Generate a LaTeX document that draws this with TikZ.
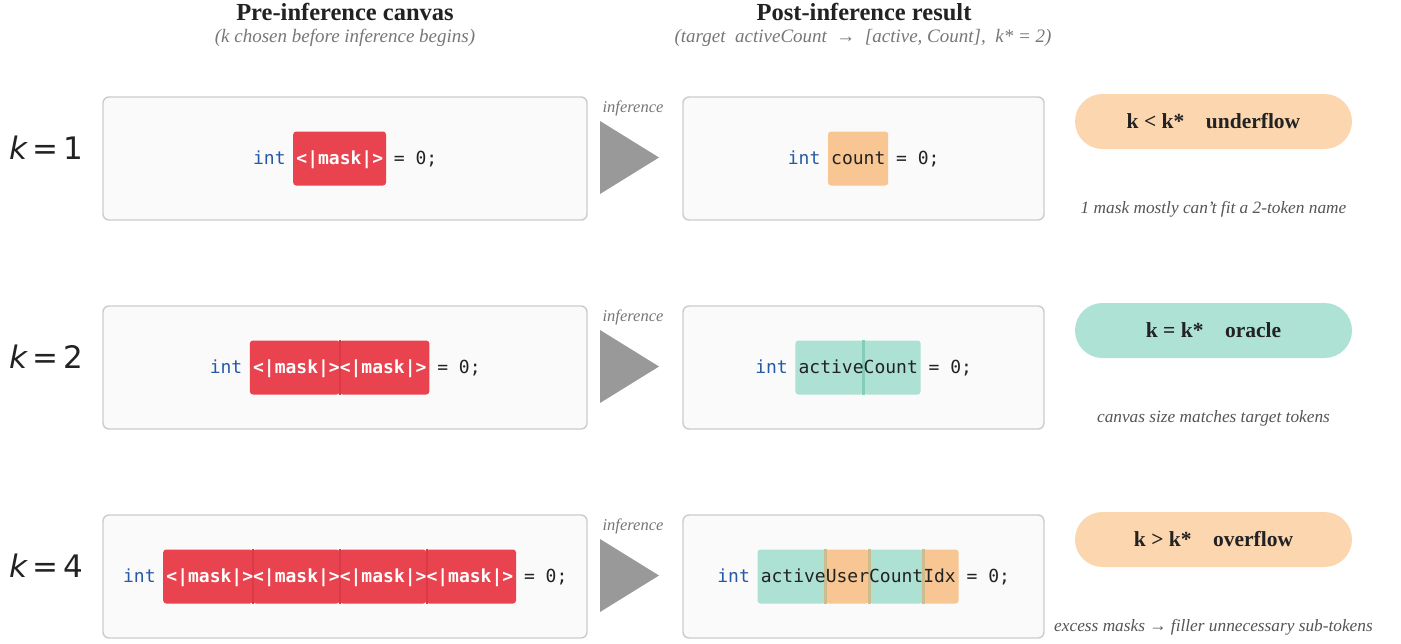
\documentclass[tikz,border=0pt]{standalone}
\usepackage{fontspec}
\setmainfont{Liberation Serif}
\newfontfamily\monof{DejaVu Sans Mono}
\newfontfamily\sansf{DejaVu Sans}
\usetikzlibrary{shapes.misc}
\definecolor{maskred}{HTML}{E8434F}
\definecolor{maskdark}{HTML}{DA3A47}
\definecolor{tokpeach}{HTML}{F8C692}
\definecolor{tokteal}{HTML}{ADE1D3}
\definecolor{septeal}{HTML}{84CEB7}
\definecolor{sepmix}{HTML}{CCBC8E}
\definecolor{pillpeach}{HTML}{FCD6AE}
\definecolor{pillteal}{HTML}{AEE2D5}
\definecolor{panelfill}{HTML}{FAFAFA}
\definecolor{panelline}{HTML}{CCCCCC}
\definecolor{intblue}{HTML}{2459A6}
\definecolor{trigray}{HTML}{999999}
\definecolor{subgray}{HTML}{777777}
\definecolor{capgray}{HTML}{555555}
\definecolor{inkdark}{HTML}{222222}
\tikzset{
  panel/.style={draw=panelline, line width=1.4pt, fill=panelfill, rounded corners=6pt,
    minimum width=484pt, minimum height=123pt, inner sep=0pt},
  rpanel/.style={panel, minimum width=361pt},
  code/.style={font=\monof\fontsize{18}{20}\selectfont, text=inkdark, inner sep=0pt, anchor=base west},
  tok/.style={rounded corners=3pt, minimum height=54pt, inner sep=0pt, draw=none},
  sepline/.style={line width=2pt},
  title/.style={font=\bfseries\fontsize{24.5}{26}\selectfont, text=inkdark, anchor=base, inner sep=0pt},
  subtitle/.style={font=\itshape\fontsize{19}{21}\selectfont, text=subgray, anchor=base, inner sep=0pt},
  inflabel/.style={font=\itshape\fontsize{16.5}{18}\selectfont, text=subgray, anchor=base, inner sep=0pt},
  klabel/.style={font=\sansf\fontsize{31}{34}\selectfont, text=inkdark, anchor=base west, inner sep=0pt},
  pill/.style={rounded rectangle, minimum width=277pt, minimum height=55pt, inner sep=0pt,
    font=\bfseries\fontsize{21.5}{24}\selectfont, text=inkdark},
  caption/.style={font=\itshape\fontsize{17.3}{19}\selectfont, text=capgray, anchor=base, inner sep=0pt},
  tri/.style={fill=trigray}
}
\newcommand{\tokbox}[5]{% name, x1, x2, ycenter, colour
  \node[tok, fill=#5, minimum width={(#3)-(#2)}] (#1) at ({((#2)+(#3))/2}, #4) {};}
\newcommand{\klab}[1]{{\sansf\itshape k}\hspace{5pt}=\hspace{5pt}#1}
\begin{document}
\begin{tikzpicture}[x=1pt, y=-1pt]
\useasboundingbox (0,0) rectangle (1401,643);
\fill[white] (0,0) rectangle (1401,643);

% headers
\node[title] (t1) at (345,20) {Pre-inference canvas};
\node[subtitle] (s1) at (345,42) {(k chosen before inference begins)};
\node[title] (t2) at (864,20) {Post-inference result};
\node[subtitle] (s2) at (863,42) {(target\ \ activeCount\ \ →\ \ [active, Count],\ \ k* = 2)};

% k labels
\node[klabel] (k1) at (9,159) {\klab{1}};
\node[klabel] (k2) at (9,368) {\klab{2}};
\node[klabel] (k4) at (9,577) {\klab{4}};

% panels
\node[panel] (L1) at (345,158.5) {};
\node[panel] (L2) at (345,367.5) {};
\node[panel] (L3) at (345,576.5) {};
\node[rpanel] (R1) at (863.5,158.5) {};
\node[rpanel] (R2) at (863.5,367.5) {};
\node[rpanel] (R3) at (863.5,576.5) {};

% inference arrows
\node[inflabel] (i1) at (633,112) {inference};
\node[inflabel] (i2) at (633,321) {inference};
\node[inflabel] (i3) at (633,530) {inference};
\fill[tri] (600,121) -- (600,194) -- (659,157.5) -- cycle;
\fill[tri] (600,330) -- (600,403) -- (659,366.5) -- cycle;
\fill[tri] (600,539) -- (600,612) -- (659,575.5) -- cycle;

% ---- row 1 left
\tokbox{m11}{293.2}{386.0}{158.5}{maskred}
\node[code] (c1l) at (252.9,164.5) {{\color{intblue}int} {\color{white}\bfseries <|mask|>} = 0;};
% ---- row 2 left
\tokbox{m21}{249.9}{339.6}{367.5}{maskred}
\tokbox{m22}{339.6}{429.3}{367.5}{maskred}
\draw[sepline, maskdark] (m21.north east) -- (m21.south east);
\node[code] (c2l) at (209.55,373.5) {{\color{intblue}int} {\color{white}\bfseries <|mask|><|mask|>} = 0;};
% ---- row 3 left
\tokbox{m31}{163.2}{252.9}{576.5}{maskred}
\tokbox{m32}{252.9}{339.6}{576.5}{maskred}
\tokbox{m33}{339.6}{426.3}{576.5}{maskred}
\tokbox{m34}{426.3}{516.0}{576.5}{maskred}
\draw[sepline, maskdark] (m31.north east) -- (m31.south east);
\draw[sepline, maskdark] (m32.north east) -- (m32.south east);
\draw[sepline, maskdark] (m33.north east) -- (m33.south east);
\node[code] (c3l) at (122.9,582.5) {{\color{intblue}int} {\color{white}\bfseries <|mask|><|mask|><|mask|><|mask|>} = 0;};

% ---- row 1 right
\tokbox{r11}{828.0}{888.2}{158.5}{tokpeach}
\node[code] (c1r) at (787.65,164.5) {{\color{intblue}int} count = 0;};
% ---- row 2 right
\tokbox{r21}{795.4}{863.4}{367.5}{tokteal}
\tokbox{r22}{863.4}{920.6}{367.5}{tokteal}
\draw[sepline, septeal, line width=3pt] (r21.north east) -- (r21.south east);
\node[code] (c2r) at (755.1,373.5) {{\color{intblue}int} activeCount = 0;};
% ---- row 3 right
\tokbox{r31}{757.5}{825.6}{576.5}{tokteal}
\tokbox{r32}{825.6}{868.9}{576.5}{tokpeach}
\tokbox{r33}{868.9}{923.1}{576.5}{tokteal}
\tokbox{r34}{923.1}{958.6}{576.5}{tokpeach}
\draw[sepline, sepmix, line width=3pt] (r31.north east) -- (r31.south east);
\draw[sepline, sepmix, line width=3pt] (r32.north east) -- (r32.south east);
\draw[sepline, sepmix, line width=3pt] (r33.north east) -- (r33.south east);
\node[code] (c3r) at (717.2,582.5) {{\color{intblue}int} activeUserCountIdx = 0;};

% ---- pills and captions
\node[pill, fill=pillpeach] (p1) at (1213.5,121.5) {k < k*\hspace{1em}underflow};
\node[pill, fill=pillteal] (p2) at (1213.5,330.5) {k = k*\hspace{1em}oracle};
\node[pill, fill=pillpeach] (p3) at (1213.5,539.5) {k > k*\hspace{1em}overflow};
\node[caption] (n1) at (1213.5,213) {1 mask mostly can't fit a 2-token name};
\node[caption] (n2) at (1213.5,422) {canvas size matches target tokens};
\begin{scope}
\clip (1040,590) rectangle (1371,643);
\node[caption] (n3) at (1213.5,631) {excess masks → filler unnecessary sub-tokens};
\end{scope}
\end{tikzpicture}
\end{document}
